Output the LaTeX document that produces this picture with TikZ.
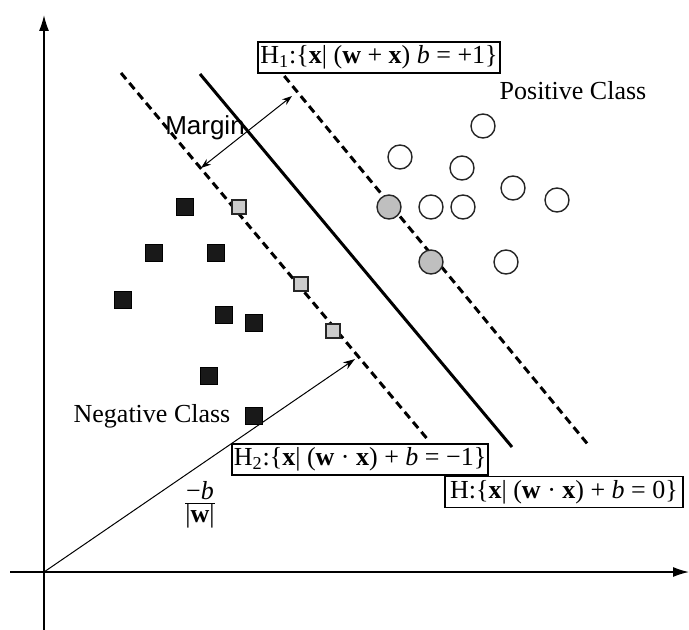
\documentclass[tikz,border=0pt]{standalone}
\usepackage{fontspec}
\setmainfont{Liberation Serif}
\setsansfont{Liberation Sans}
\usetikzlibrary{arrows.meta}

\begin{document}
\begin{tikzpicture}[
  x=0.5pt, y=-0.5pt,
  font=\fontsize{13}{15}\selectfont,
  negpt/.style={draw=black, fill=black!90, minimum size=8.5pt, inner sep=0pt},
  negsv/.style={draw=black!85, line width=0.8pt, fill=black!20, minimum size=7pt, inner sep=0pt},
  pospt/.style={circle, draw=black!85, line width=0.7pt, minimum size=12pt, inner sep=0pt},
  possv/.style={pospt, fill=black!25},
  eqn/.style={draw, line width=0.8pt, fill=white, inner sep=1pt, minimum height=15.5pt},
  hplane/.style={line width=1.5pt},
  mplane/.style={line width=1.5pt, dash pattern=on 4pt off 2.5pt},
  axis/.style={line width=0.7pt, -{Latex[length=8pt,width=5pt]}},
  arr/.style={line width=0.5pt, -{Stealth[length=6pt,width=4pt]}},
  darr/.style={line width=0.5pt, {Stealth[length=5pt,width=3.5pt]}-{Stealth[length=5pt,width=3.5pt]}},
]
\useasboundingbox (0,0) rectangle (689,630);

\coordinate (o) at (44,572);
\coordinate (xa) at (10,572);
\coordinate (xb) at (689,572);
\coordinate (ya) at (44,630);
\coordinate (yb) at (44,15);
\draw[axis] (xa) -- (xb);
\draw[axis] (ya) -- (yb);

\coordinate (h2a) at (121,73);
\coordinate (h2b) at (429,441);
\coordinate (h0a) at (200,74);
\coordinate (h0b) at (512,447);
\coordinate (h1a) at (276,66);
\coordinate (h1b) at (590,447);
\draw[mplane] (h2a) -- (h2b);
\draw[hplane] (h0a) -- (h0b);
\draw[mplane] (h1a) -- (h1b);

\coordinate (ma) at (201,168);
\coordinate (mb) at (292,96);
\draw[darr] (ma) -- (mb);
\node (margin) at (205,128) {\sffamily Margin};

\coordinate (wv) at (355,359);
\draw[arr] (o) -- (wv);
\node (frac) at (200,505) {$\frac{\mbox{−\textit{b}}}{\mbox{|\textbf{w}|}}$};

\node[negpt] (n1) at (185,207) {};
\node[negpt] (n2) at (154,253) {};
\node[negpt] (n3) at (216,253) {};
\node[negpt] (n4) at (123,300) {};
\node[negpt] (n5) at (224,315) {};
\node[negpt] (n6) at (254,323) {};
\node[negpt] (n7) at (209,376) {};
\node[negpt] (n8) at (254,416) {};
\node[negsv] (s1) at (239,207) {};
\node[negsv] (s2) at (301,284) {};
\node[negsv] (s3) at (333,331) {};

\node[pospt] (p1) at (483,126) {};
\node[pospt] (p2) at (400,157) {};
\node[pospt] (p3) at (462,168) {};
\node[pospt] (p4) at (513,188) {};
\node[pospt] (p5) at (557,200) {};
\node[pospt] (p6) at (431,207) {};
\node[pospt] (p7) at (463,207) {};
\node[pospt] (p8) at (506,262) {};
\node[possv] (c1) at (389,207) {};
\node[possv] (c2) at (431,262) {};

\node (posc) at (573,91) {Positive Class};
\node (negc) at (152,416) {Negative Class};

\node[eqn, minimum width=121pt] (eq1) at (379,57.5) {H\textsubscript{1}:\{\textbf{x}| (\textbf{w} + \textbf{x}) \textit{b} = +1\}};
\node[eqn, minimum width=128pt] (eq2) at (360,459.5) {H\textsubscript{2}:\{\textbf{x}| (\textbf{w} · \textbf{x}) + \textit{b} = −1\}};
\node[eqn, minimum width=119pt] (eq0) at (564,492) {H:\{\textbf{x}| (\textbf{w} · \textbf{x}) + \textit{b} = 0\}};
\end{tikzpicture}
\end{document}
